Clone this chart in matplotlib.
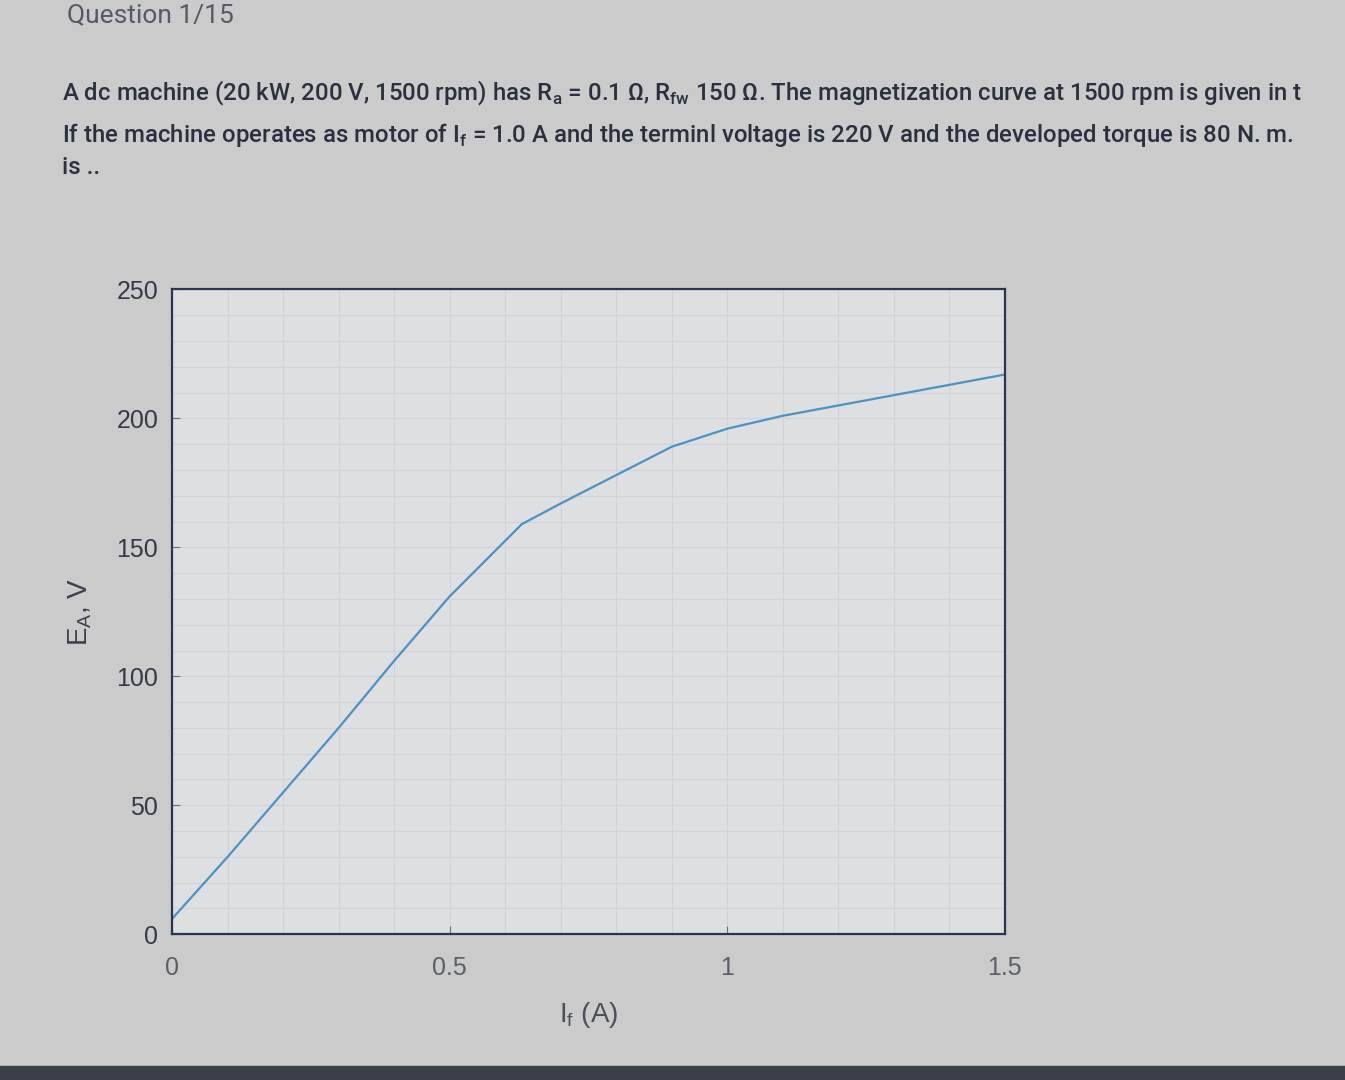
import matplotlib.pyplot as plt
from matplotlib.ticker import MultipleLocator

# magnetization curve
field_current = [0, 0.1, 0.2, 0.3, 0.4, 0.5, 0.63, 0.7, 0.8, 0.9, 1.0, 1.1, 1.2, 1.3, 1.4, 1.5]
emf = [6, 30, 55, 80, 106, 131, 159, 167, 178, 189, 196, 201, 205, 209, 213, 217]

x_ticks = [0, 0.5, 1, 1.5]
x_tick_labels = ['0', '0.5', '1', '1.5']
y_ticks = [0, 50, 100, 150, 200, 250]

question_lines = [
    "A dc machine (20 kW, 200 V, 1500 rpm) has R$_\\mathregular{a}$ = 0.1 \u03a9, "
    "R$_\\mathregular{fw}$ 150 \u03a9. The magnetization curve at 1500 rpm is given in t",
    "If the machine operates as motor of I$_\\mathregular{f}$ = 1.0 A and the terminl voltage "
    "is 220 V and the developed torque is 80 N. m.",
    "is ..",
]

text_color = '#2b3040'
axis_color = '#2a3552'
line_color = '#4b93c4'

fig = plt.figure(figsize=(13.45, 10.8), dpi=100)
fig.patch.set_facecolor('#cbcbcb')

# header text of the quiz page
fig.text(0.05, 0.997, "Question 1/15", fontsize=19, family='Roboto',
         color='#555a66', va='top', ha='left')
ys = [0.914, 0.875, 0.845]
for i, line in enumerate(question_lines):
    fig.text(0.046, ys[i], line, fontsize=17.3, family='Roboto', fontweight='medium',
             color=text_color, va='center', ha='left')

ax = fig.add_axes([0.128, 0.135, 0.619, 0.597])
ax.set_facecolor('#dedfe0')
ax.plot(field_current, emf, color=line_color, linewidth=1.6)

ax.set_xlim(0, 1.5)
ax.set_ylim(0, 250)
ax.set_xticks(x_ticks)
ax.set_xticklabels(x_tick_labels)
ax.set_yticks(y_ticks)
ax.xaxis.set_minor_locator(MultipleLocator(0.1))
ax.yaxis.set_minor_locator(MultipleLocator(10))
ax.grid(which='both', color='#cfd2d8', linewidth=0.8)
ax.set_axisbelow(True)

ax.tick_params(direction='in', length=6, color='#6a7080', labelsize=18,
               labelcolor='#5a5f6a')
ax.tick_params(axis='x', pad=16)
ax.tick_params(axis='y', pad=10)
ax.tick_params(which='minor', length=0)
for lab in ax.get_yticklabels():
    lab.set_color('#353a48')
    lab.set_family('Liberation Sans')
for lab in ax.get_xticklabels():
    lab.set_family('Liberation Sans')

for s in ax.spines.values():
    s.set_color(axis_color)
    s.set_linewidth(1.6)

ax.set_xlabel("I$_\\mathregular{f}$ (A)", fontsize=20, color='#4a4f5a',
              family='Liberation Sans', labelpad=14)
ax.set_ylabel("E$_\\mathregular{A}$, V", fontsize=20, color='#3a3f4c',
              family='Liberation Sans', labelpad=16)

# dark screen edge along the bottom
fig.add_artist(plt.Rectangle((0, 0), 1, 0.013, transform=fig.transFigure,
                             color='#3a3f48'))

plt.savefig('out.png', dpi=100, facecolor=fig.get_facecolor())
